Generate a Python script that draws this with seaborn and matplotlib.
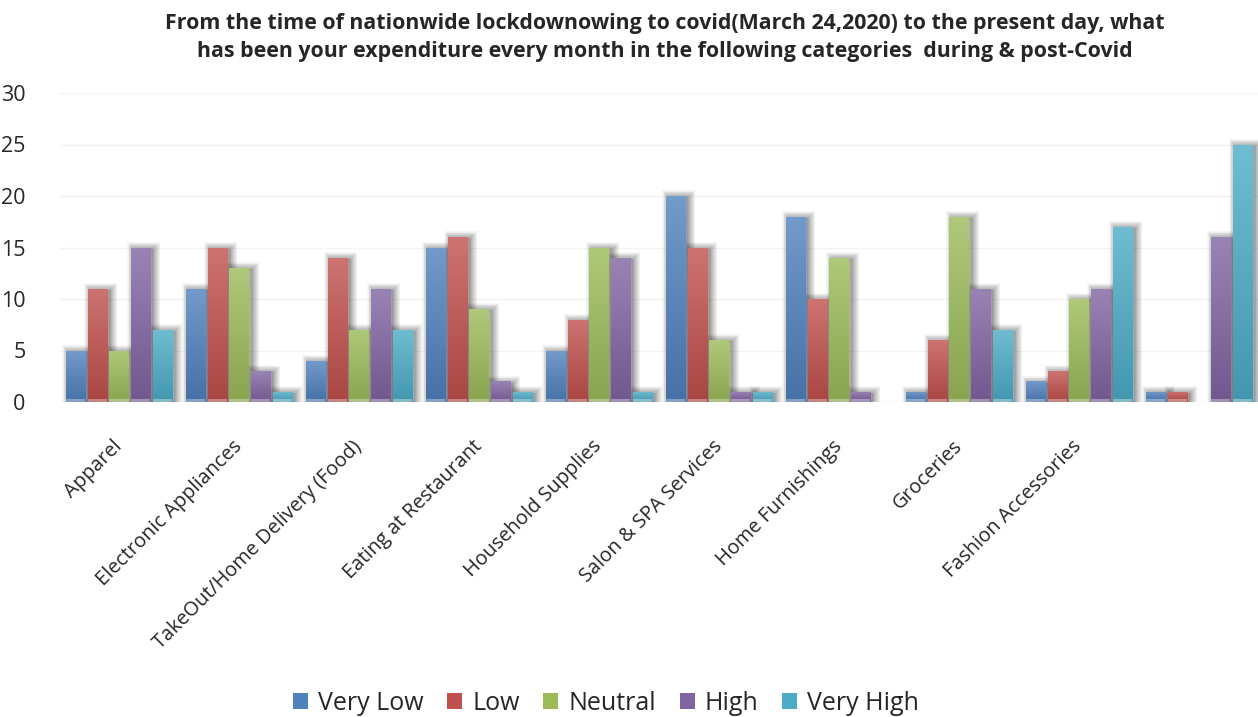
import numpy as np
import pandas as pd
import matplotlib
matplotlib.use("Agg")
import matplotlib.pyplot as plt
import matplotlib.patheffects as pe
from matplotlib.colors import to_rgb
from matplotlib.patches import Patch
import seaborn as sns

categories = ["Apparel", "Electronic Appliances", "TakeOut/Home Delivery (Food)",
              "Eating at Restaurant", "Household Supplies", "Salon & SPA Services",
              "Home Furnishings", "Groceries", "Fashion Accessories", " "]
levels = ["Very Low", "Low", "Neutral", "High", "Very High"]

very_low = [5, 11, 4, 15, 5, 20, 18, 1, 2, 1]
low = [11, 15, 14, 16, 8, 15, 10, 6, 3, 1]
neutral = [5, 13, 7, 9, 15, 6, 14, 18, 10, 0]
high = [15, 3, 11, 2, 14, 1, 1, 11, 11, 16]
very_high = [7, 1, 7, 1, 1, 1, 0, 7, 17, 25]

colors = ["#4F81BD", "#C0504D", "#9BBB59", "#8064A2", "#4BACC6"]

series = [very_low, low, neutral, high, very_high]
df = pd.DataFrame({
    "category": np.repeat([categories], len(levels), axis=0).ravel(),
    "level": np.repeat(levels, len(categories)),
    "value": np.concatenate(series),
})

sns.set_style("white")
plt.rcParams["font.family"] = ["Open Sans", "DejaVu Sans"]

fig = plt.figure(figsize=(12.58, 7.17), dpi=100)
ax = fig.add_axes([59 / 1258, 315 / 717, 1200 / 1258, 309 / 717])

sns.barplot(data=df, x="category", y="value", hue="level", order=categories,
            hue_order=levels, palette=colors, width=0.9, gap=0.12,
            legend=False, ax=ax, zorder=3)

ax.set_ylim(0, 30)
ax.set_xlim(-0.5, len(categories) - 0.5)
ax.set_yticks(range(0, 31, 5))
ax.yaxis.grid(True, color="#F3F3F3", linewidth=1, zorder=0)
ax.xaxis.grid(False)
for s in ax.spines.values():
    s.set_visible(False)
ax.axhline(0, color="#EEEEEE", linewidth=1, zorder=1)
ax.set_xlabel("")
ax.set_ylabel("")
ax.tick_params(axis="y", labelsize=15.5, pad=24, length=0)
ax.tick_params(axis="x", labelsize=14.3, length=0, pad=30)
for lab in ax.get_xticklabels():
    lab.set_rotation(45)
    lab.set_ha("right")
    lab.set_va("center")
    lab.set_rotation_mode("anchor")

# soft shadow: a stack of faint offset strokes behind each bar
shadow = [pe.Stroke(linewidth=lw, foreground="#000000", alpha=0.035,
                    offset=(2.2, -0.8)) for lw in np.linspace(10, 1, 10)]
shadow.append(pe.Normal())

# gradient fill on each bar
for container, base in zip(ax.containers, colors):
    rgb = np.array(to_rgb(base))
    top = rgb + (1 - rgb) * 0.2
    bottom = rgb * 0.88
    grad = np.linspace(0, 1, 64)[:, None]
    img = (top[None, :] * (1 - grad) + bottom[None, :] * grad)[:, None, :]
    for bar in container:
        h = bar.get_height()
        if h <= 0:
            continue
        bar.set_path_effects(shadow)
        bar.set_edgecolor("none")
        x0, w = bar.get_x(), bar.get_width()
        im = ax.imshow(img, extent=(x0, x0 + w, 0, h), aspect="auto",
                       origin="upper", zorder=4, interpolation="bilinear")
        im.set_clip_path(bar)
        # pale strip along the base
        ax.bar(x0 + w / 2, 0.3, width=w, color="white", alpha=0.35,
               zorder=5, linewidth=0)

ax.set_aspect("auto")
ax.set_xlim(-0.5, len(categories) - 0.5)
ax.set_ylim(0, 30)

fig.text(665 / 1258, 1 - 37.5 / 717,
         "From the time of nationwide lockdownowing to covid(March 24,2020) to the present day, what\n"
         "has been your expenditure every month in the following categories  during & post-Covid",
         ha="center", va="center", fontsize=15.4, fontweight="bold", linespacing=1.45)

handles = [Patch(facecolor=c, edgecolor="none") for c in colors]
fig.legend(handles, levels, loc="center", bbox_to_anchor=(606 / 1258, 14 / 717),
           ncol=5, frameon=False, fontsize=18, handlelength=0.6, handleheight=0.6,
           handletextpad=0.4, columnspacing=0.95)

fig.savefig("out.png", dpi=100)
